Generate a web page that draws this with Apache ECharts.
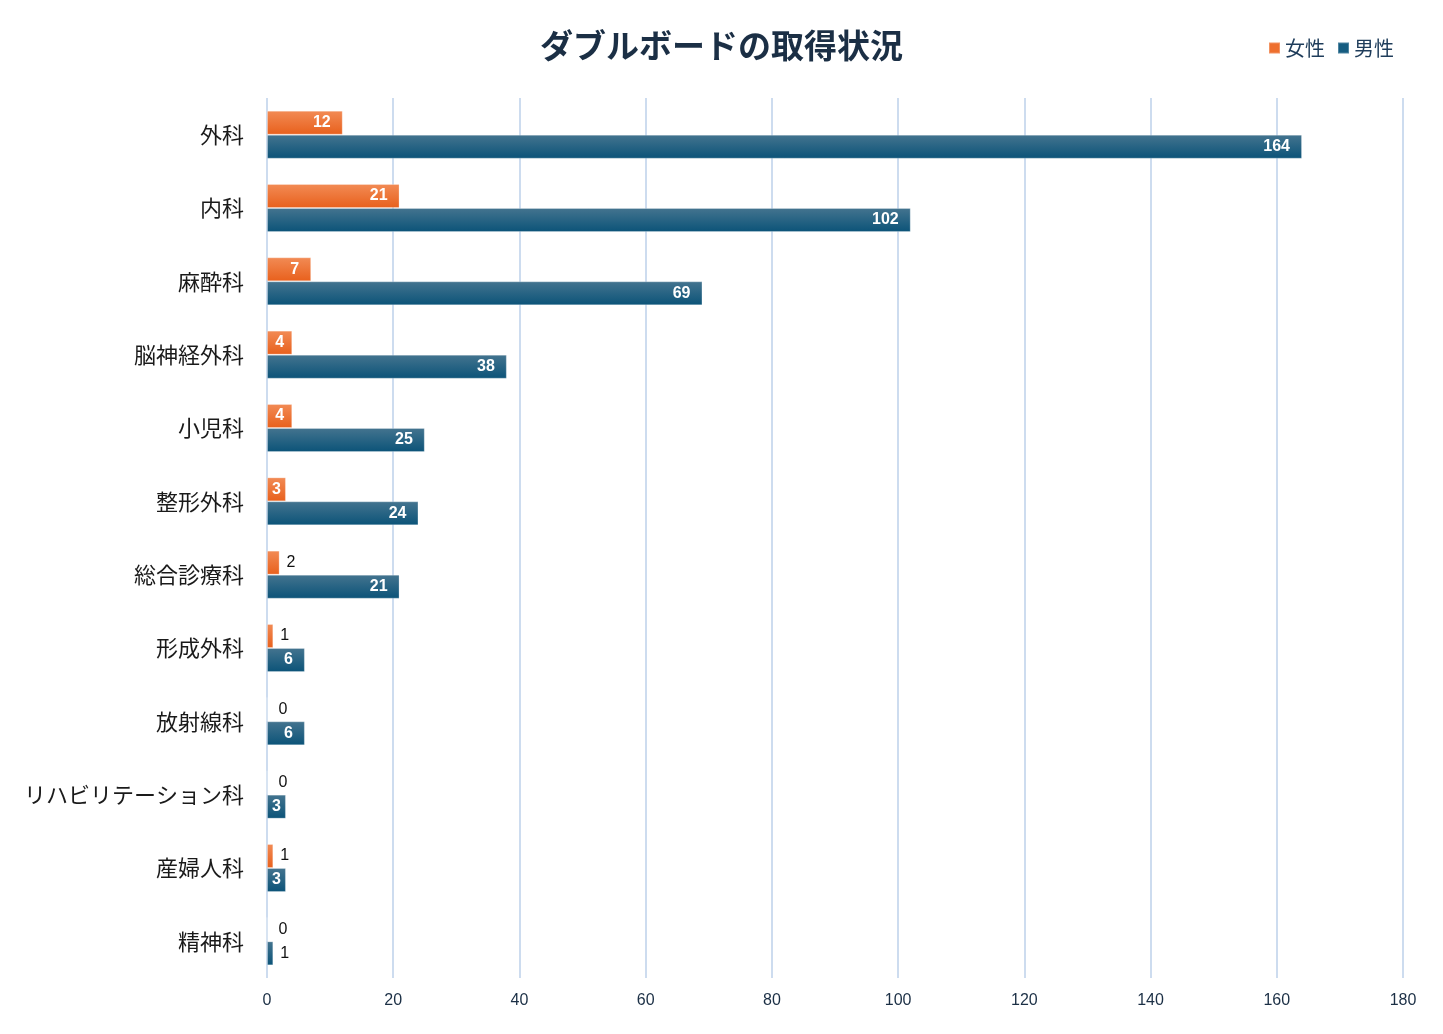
<!DOCTYPE html>
<html>
<head>
<meta charset="utf-8">
<script src="https://cdn.jsdelivr.net/npm/echarts@6/dist/echarts.min.js"></script>
<style>html,body{margin:0;padding:0;background:#fff}#c{width:1443px;height:1034px}</style>
</head>
<body>
<div id="c"></div>
<script>
const categories = ['外科','内科','麻酔科','脳神経外科','小児科','整形外科','総合診療科','形成外科','放射線科','リハビリテーション科','産婦人科','精神科'];
const femaleValues = [12,21,7,4,4,3,2,1,0,0,1,0];
const maleValues = [164,102,69,38,25,24,21,6,6,3,3,1];
const xTicks = {min:0, max:180, interval:20};
const seriesNames = ['女性','男性'];

const NUMFONT = '"Liberation Sans", Arial, sans-serif';
const JPFONT = '"Noto Sans CJK JP", sans-serif';
function grad(top, bottom){
  return {type:'linear',x:0,y:0,x2:0,y2:1,colorStops:[{offset:0,color:top},{offset:1,color:bottom}]};
}
function labelFor(v){
  const inner = {show:true, color:'#fff', fontWeight:'bold', fontSize:16, fontFamily:NUMFONT};
  if (v >= 3 && v <= 4) return Object.assign({position:'inside'}, inner);
  if (v > 4) return Object.assign({position:'insideRight', distance:12}, inner);
  return {show:true, position:'right', distance: v === 0 ? 11 : 7, color:'#111', fontWeight:'normal', fontSize:16, fontFamily:NUMFONT};
}
function withLabels(vals){
  return vals.map(v => ({value: v, label: labelFor(v)}));
}
const chart = echarts.init(document.getElementById('c'));
chart.setOption({
  backgroundColor:'#fff',
  animation:false,
  title:{text:'ダブルボードの取得状況', left:'center', top:24,
    textStyle:{fontFamily:JPFONT, fontWeight:'bold', fontSize:33, color:'#1b2f45'}},
  legend:{right:44, top:33, itemWidth:11, itemHeight:11, itemGap:12, icon:'rect',
    textStyle:{fontFamily:JPFONT, fontSize:20, color:'#1e3c5a'},
    data:[{name:seriesNames[0], itemStyle:{color:'#ee6f2e'}},{name:seriesNames[1], itemStyle:{color:'#155c80'}}]},
  grid:{left:267, right:40, top:98, bottom:56, containLabel:false},
  xAxis:{type:'value', min:xTicks.min, max:xTicks.max, interval:xTicks.interval,
    axisLine:{show:false}, axisTick:{show:false},
    axisLabel:{margin:15, fontSize:16, color:'#1b2f45', fontFamily:NUMFONT},
    splitLine:{lineStyle:{color:'#cddcef', width:2}}},
  yAxis:{type:'category', data:categories, inverse:true,
    axisLine:{show:false}, axisTick:{show:false},
    axisLabel:{margin:23, fontSize:22, color:'#1a1a1a', fontFamily:JPFONT, padding:[0,0,4,0]}},
  series:[
    {name:seriesNames[0], type:'bar', data:withLabels(femaleValues), barWidth:24, barGap:'0%',
      itemStyle:{color:grad('#f28b55','#e8601c'), borderColor:'rgba(255,255,255,0.25)', borderWidth:1}},
    {name:seriesNames[1], type:'bar', data:withLabels(maleValues), barWidth:24, barGap:'0%',
      itemStyle:{color:grad('#44748f','#0b5378'), borderColor:'rgba(255,255,255,0.25)', borderWidth:1}}
  ]
});
</script>
</body>
</html>
